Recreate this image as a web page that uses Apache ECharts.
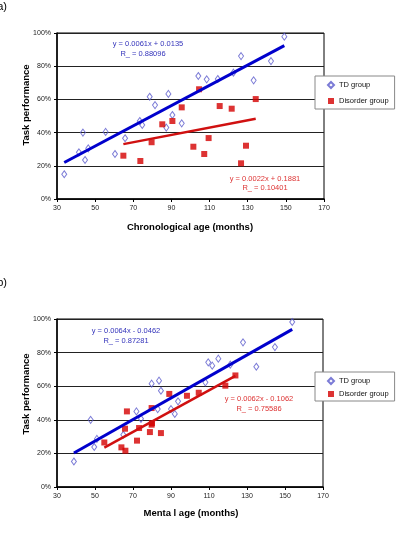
<!DOCTYPE html>
<html>
<head>
<meta charset="utf-8">
<script src="https://cdn.jsdelivr.net/npm/echarts@6/dist/echarts.min.js"></script>
<style>
  html, body { margin: 0; padding: 0; background: #fff; }
  #main { width: 402px; height: 538px; }
</style>
</head>
<body>
<div id="main"></div>
<script>
// panel a: chronological age
const tdAgeA = [33.8, 41.5, 44.7, 46.4, 43.6, 55.5, 60.4, 65.7, 73.4, 74.7, 78.6, 81.4, 87.3, 88.4, 90.5, 95.4, 104.1, 108.5, 114.3, 122.5, 126.5, 133.1, 142.2, 149.2];
const tdPerfA = [0.149, 0.281, 0.235, 0.305, 0.40, 0.404, 0.271, 0.366, 0.47, 0.446, 0.616, 0.566, 0.43, 0.633, 0.506, 0.456, 0.741, 0.721, 0.723, 0.761, 0.861, 0.715, 0.831, 0.978];
const disAgeA = [64.8, 73.7, 79.6, 85.2, 90.5, 95.4, 101.5, 104.5, 107.2, 109.5, 115.3, 121.6, 126.5, 129.1, 134.2];
const disPerfA = [0.261, 0.229, 0.342, 0.45, 0.47, 0.552, 0.315, 0.661, 0.271, 0.367, 0.56, 0.544, 0.215, 0.321, 0.602];

// panel b: mental age
const tdAgeB = [38.9, 47.7, 49.6, 51.0, 64.9, 71.8, 74.2, 79.8, 83.7, 84.7, 83.0, 90.0, 92.0, 93.7, 108.1, 109.6, 111.7, 114.9, 121.2, 127.9, 134.9, 144.7, 153.8];
const tdPerfB = [0.152, 0.40, 0.238, 0.286, 0.311, 0.45, 0.406, 0.615, 0.633, 0.573, 0.464, 0.464, 0.435, 0.51, 0.623, 0.742, 0.722, 0.764, 0.728, 0.861, 0.716, 0.833, 0.982];
const disAgeB = [54.9, 63.9, 66.0, 65.8, 66.8, 72.1, 73.2, 78.9, 79.8, 80.0, 79.8, 84.7, 89.1, 98.4, 104.6, 118.6, 123.9];
const disPerfB = [0.265, 0.236, 0.216, 0.347, 0.45, 0.276, 0.351, 0.327, 0.371, 0.38, 0.47, 0.321, 0.554, 0.543, 0.561, 0.603, 0.664];

// trend line equations as printed on the chart [slope, intercept]
const trendTdA = [0.0061, 0.0135];
const trendDisA = [0.0022, 0.1881];
const trendTdB = [0.0064, -0.0462];
const trendDisB = [0.0062, -0.1062];

const xTicks = [30, 50, 70, 90, 110, 130, 150, 170];
const yTicks = [0, 0.2, 0.4, 0.6, 0.8, 1];

const FONT = 'Liberation Sans, Arial, sans-serif';
const TD_COLOR = '#5a5acc';
const DIS_COLOR = '#d40000';

function pairs(xs, ys) {
    return xs.map((x, i) => [x, ys[i]]);
}

function trendLine(xs, coef) {
    let lo = Math.min(...xs);
    let hi = Math.max(...xs);
    return [[lo, coef[0] * lo + coef[1]], [hi, coef[0] * hi + coef[1]]];
}

function xAxisFor(idx) {
    return {
        type: 'value', gridIndex: idx,
        min: xTicks[0], max: xTicks[xTicks.length - 1], interval: 20,
        axisLine: {show: true, onZero: false, lineStyle: {color: '#000', width: 1.5}},
        axisTick: {show: true, length: 3, lineStyle: {color: '#000'}},
        axisLabel: {fontSize: 7, color: '#222', fontFamily: FONT, margin: 6},
        splitLine: {show: false}
    };
}

function yAxisFor(idx) {
    return {
        type: 'value', gridIndex: idx,
        min: yTicks[0], max: yTicks[yTicks.length - 1], interval: 0.2,
        axisLine: {show: true, lineStyle: {color: '#000', width: 1.5}},
        axisTick: {show: true, length: 3, lineStyle: {color: '#000'}},
        axisLabel: {fontSize: 7, color: '#222', fontFamily: FONT, margin: 6,
            formatter: v => Math.round(v * 100) + '%'},
        splitLine: {show: true, lineStyle: {color: '#222', width: 1}}
    };
}

function scatter(name, idx, data, isTd) {
    return {
        name: name, type: 'scatter', xAxisIndex: idx, yAxisIndex: idx,
        data: data,
        symbol: isTd ? 'diamond' : 'rect',
        symbolSize: isTd ? [5, 7] : 6,
        itemStyle: isTd
            ? {color: 'rgba(255,255,255,0)', borderColor: TD_COLOR, borderWidth: 1}
            : {color: DIS_COLOR},
        silent: true,
        z: 3
    };
}

function line(idx, data, color, width) {
    return {
        type: 'line', xAxisIndex: idx, yAxisIndex: idx,
        data: data, showSymbol: false, silent: true,
        lineStyle: {color: color, width: width},
        z: 4
    };
}

function legendAt(top, gap, pad) {
    return {
        data: ['TD group', 'Disorder group'],
        orient: 'vertical', left: 315, top: top,
        backgroundColor: '#fff', borderColor: '#888', borderWidth: 1, borderRadius: 0,
        padding: pad, itemGap: gap, itemWidth: 6, itemHeight: 6,
        textStyle: {fontSize: 7.5, color: '#111', fontFamily: FONT},
        selectedMode: false
    };
}

function txt(text, x, y, color, size, bold, rotate, align) {
    return {
        type: 'text', x: x, y: y, rotation: rotate || 0,
        style: {
            text: text, fill: color, fontSize: size, fontFamily: FONT,
            fontWeight: bold ? 'bold' : 'normal',
            align: align || 'center', verticalAlign: 'middle'
        }
    };
}

let chart = echarts.init(document.getElementById('main'));

chart.setOption({
    animation: false,
    grid: [
        {left: 57, top: 33, width: 267, height: 166, show: true, borderColor: '#000', borderWidth: 1, backgroundColor: '#fff'},
        {left: 57, top: 319, width: 266, height: 168, show: true, borderColor: '#000', borderWidth: 1, backgroundColor: '#fff'}
    ],
    xAxis: [xAxisFor(0), xAxisFor(1)],
    yAxis: [yAxisFor(0), yAxisFor(1)],
    legend: [legendAt(76, 8, [5, 6, 4, 12]), legendAt(372, 5, [5, 6, 3, 12])],
    series: [
        scatter('TD group', 0, pairs(tdAgeA, tdPerfA), true),
        scatter('Disorder group', 0, pairs(disAgeA, disPerfA), false),
        line(0, trendLine(tdAgeA, trendTdA), '#0000cc', 3),
        line(0, trendLine(disAgeA, trendDisA), '#d01010', 2.5),
        scatter('TD group', 1, pairs(tdAgeB, tdPerfB), true),
        scatter('Disorder group', 1, pairs(disAgeB, disPerfB), false),
        line(1, trendLine(tdAgeB, trendTdB), '#0000cc', 3),
        line(1, trendLine(disAgeB, trendDisB), '#d01010', 2.5)
    ],
    graphic: [
        txt('a)', 7, 7, '#000', 11, false, 0, 'right'),
        txt('b)', 7, 283, '#000', 11, false, 0, 'right'),
        txt('y = 0.0061x + 0.0135', 148, 44, '#3333bb', 7.5),
        txt('R_ = 0.88096', 143, 54, '#3333bb', 7.5),
        txt('y = 0.0022x + 0.1881', 265, 179, '#dd3333', 7.5),
        txt('R_ = 0.10401', 265, 188, '#dd3333', 7.5),
        txt('y = 0.0064x - 0.0462', 126, 331, '#3333bb', 7.5),
        txt('R_ = 0.87281', 126, 341, '#3333bb', 7.5),
        txt('y = 0.0062x - 0.1062', 259, 399, '#dd3333', 7.5),
        txt('R_ = 0.75586', 259, 409, '#dd3333', 7.5),
        txt('Task performance', 26, 105, '#000', 9.5, true, Math.PI / 2),
        txt('Task performance', 26, 394, '#000', 9.5, true, Math.PI / 2),
        txt('Chronological age (months)', 190, 227, '#000', 9.5, true),
        txt('Menta l age (months)', 191, 513, '#000', 9.5, true)
    ]
});
</script>
</body>
</html>
